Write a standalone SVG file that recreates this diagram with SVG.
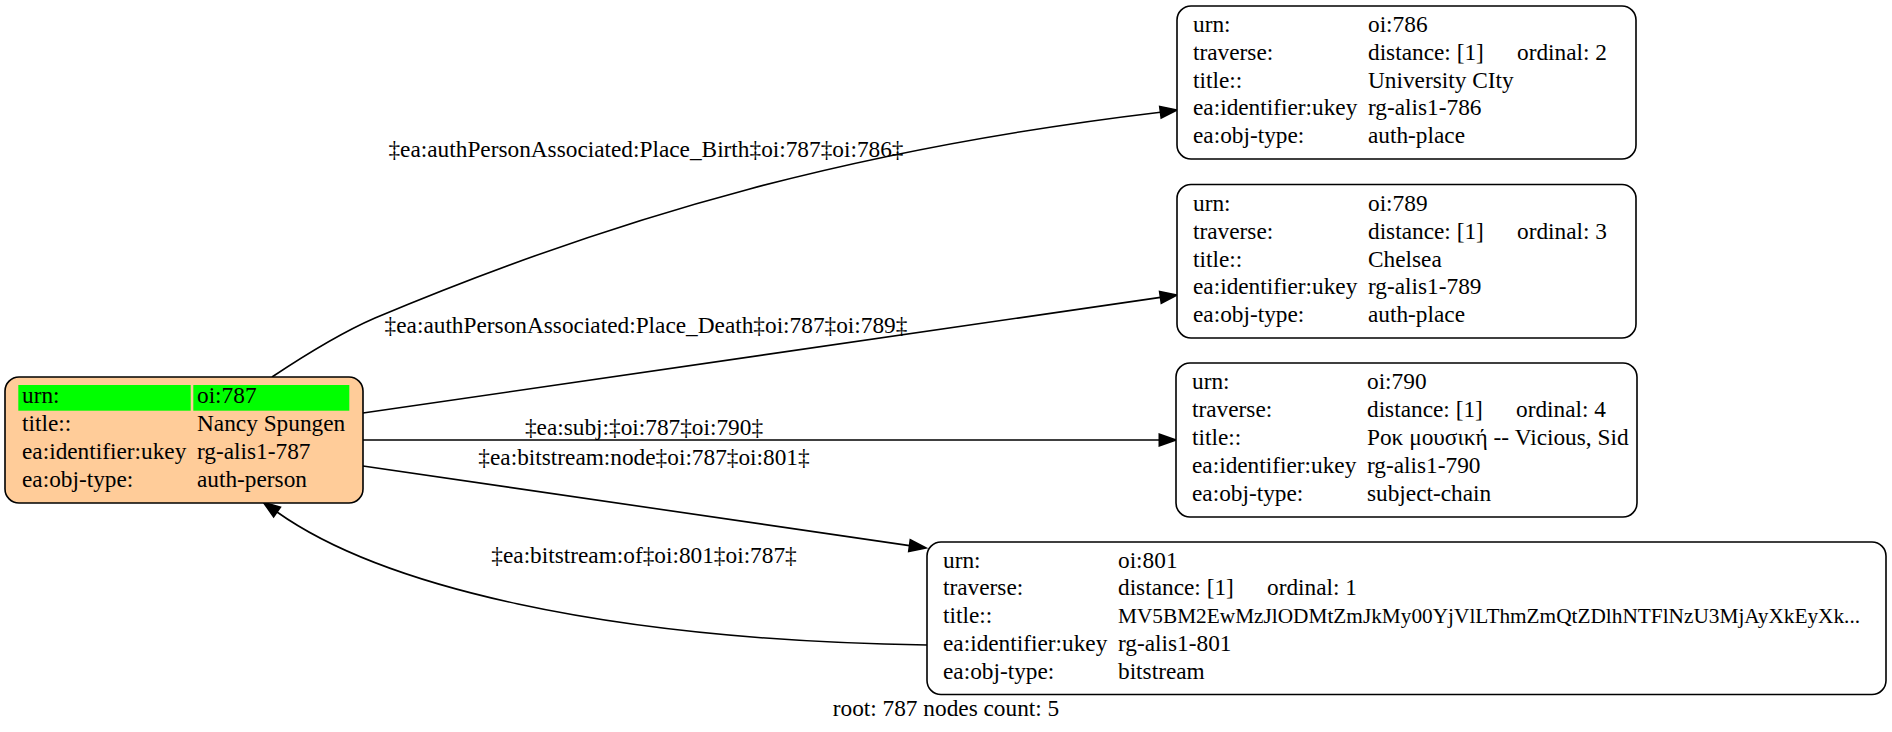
<svg xmlns="http://www.w3.org/2000/svg" width="1892" height="732" viewBox="0 0 1892 732">
<style>
text{font-family:"Liberation Serif","Times New Roman",serif;font-size:23.3px;fill:#000}
.lbl{text-anchor:middle}
.long{font-size:21.3px}
.box{fill:#fff;stroke:#000;stroke-width:1.6}
.root{fill:#ffcc99;stroke:#000;stroke-width:1.6}
.hl{fill:#00ff00}
.edge{fill:none;stroke:#000;stroke-width:1.6}
.ah{fill:#000;stroke:#000;stroke-width:1.6}
</style>
<rect width="1892" height="732" fill="#fff"/>
<g id="edges">
<g id="e786">
<path class="edge" d="M272,377 C302,357 345,331 375,318 C625,213 860,148 1160.4,112.2"/>
<polygon class="ah" points="1177,110 1161.2,118 1159.7,106.4"/>
<text class="lbl" x="646" y="157">‡ea:authPersonAssociated:Place_Birth‡oi:787‡oi:786‡</text>
</g>
<g id="e789">
<path class="edge" d="M363,413 L1160.5,297.4"/>
<polygon class="ah" points="1177,295 1161.3,303.2 1159.6,291.6"/>
<text class="lbl" x="646" y="333">‡ea:authPersonAssociated:Place_Death‡oi:787‡oi:789‡</text>
</g>
<g id="e790">
<path class="edge" d="M363,440 L1159.3,440"/>
<polygon class="ah" points="1176,440 1159.3,445.8 1159.3,434.2"/>
<text class="lbl" x="644" y="434.5">‡ea:subj:‡oi:787‡oi:790‡</text>
</g>
<g id="e801">
<path class="edge" d="M363,466 L909.5,545.6"/>
<polygon class="ah" points="926,548 908.7,551.4 910.3,539.8"/>
<text class="lbl" x="644" y="465">‡ea:bitstream:node‡oi:787‡oi:801‡</text>
</g>
<g id="e801to787">
<path class="edge" d="M927,645 C600,640 380,585 277,512"/>
<polygon class="ah" points="263.4,502.3 280.4,507.2 273.6,516.8"/>
<text class="lbl" x="644" y="563">‡ea:bitstream:of‡oi:801‡oi:787‡</text>
</g>
</g>
<g id="n787">
<rect class="root" x="5" y="377" width="358" height="126" rx="14"/>
<rect class="hl" x="18.3" y="385" width="172.4" height="25.7"/>
<rect class="hl" x="193.3" y="385" width="156" height="25.7"/>
<text x="22" y="403.3">urn:</text><text x="197" y="403.3">oi:787</text>
<text x="22" y="431">title::</text><text x="197" y="431">Nancy Spungen</text>
<text x="22" y="458.8">ea:identifier:ukey</text><text x="197" y="458.8">rg-alis1-787</text>
<text x="22" y="486.5">ea:obj-type:</text><text x="197" y="486.5">auth-person</text>
</g>
<g id="n786">
<rect class="box" x="1177" y="6" width="459" height="153" rx="14"/>
<text x="1193" y="32">urn:</text><text x="1368" y="32">oi:786</text>
<text x="1193" y="59.75">traverse:</text><text x="1368" y="59.75">distance: [1]</text><text x="1517" y="59.75">ordinal: 2</text>
<text x="1193" y="87.5">title::</text><text x="1368" y="87.5">University CIty</text>
<text x="1193" y="115.25">ea:identifier:ukey</text><text x="1368" y="115.25">rg-alis1-786</text>
<text x="1193" y="143">ea:obj-type:</text><text x="1368" y="143">auth-place</text>
</g>
<g id="n789">
<rect class="box" x="1177" y="184.5" width="459" height="153.5" rx="14"/>
<text x="1193" y="211">urn:</text><text x="1368" y="211">oi:789</text>
<text x="1193" y="238.75">traverse:</text><text x="1368" y="238.75">distance: [1]</text><text x="1517" y="238.75">ordinal: 3</text>
<text x="1193" y="266.5">title::</text><text x="1368" y="266.5">Chelsea</text>
<text x="1193" y="294.25">ea:identifier:ukey</text><text x="1368" y="294.25">rg-alis1-789</text>
<text x="1193" y="322">ea:obj-type:</text><text x="1368" y="322">auth-place</text>
</g>
<g id="n790">
<rect class="box" x="1176" y="363" width="461" height="154" rx="14"/>
<text x="1192" y="389.3">urn:</text><text x="1367" y="389.3">oi:790</text>
<text x="1192" y="417.2">traverse:</text><text x="1367" y="417.2">distance: [1]</text><text x="1516" y="417.2">ordinal: 4</text>
<text x="1192" y="445">title::</text><text x="1367" y="445">Ροκ μουσική -- Vicious, Sid</text>
<text x="1192" y="472.8">ea:identifier:ukey</text><text x="1367" y="472.8">rg-alis1-790</text>
<text x="1192" y="500.6">ea:obj-type:</text><text x="1367" y="500.6">subject-chain</text>
</g>
<g id="n801">
<rect class="box" x="927" y="542" width="959" height="152.5" rx="14"/>
<text x="943" y="567.7">urn:</text><text x="1118" y="567.7">oi:801</text>
<text x="943" y="595.4">traverse:</text><text x="1118" y="595.4">distance: [1]</text><text x="1267" y="595.4">ordinal: 1</text>
<text x="943" y="623.2">title::</text><text class="long" x="1118" y="623.2">MV5BM2EwMzJlODMtZmJkMy00YjVlLThmZmQtZDlhNTFlNzU3MjAyXkEyXk...</text>
<text x="943" y="650.9">ea:identifier:ukey</text><text x="1118" y="650.9">rg-alis1-801</text>
<text x="943" y="678.7">ea:obj-type:</text><text x="1118" y="678.7">bitstream</text>
</g>
<text class="lbl" x="946" y="716">root: 787 nodes count: 5</text>
</svg>
